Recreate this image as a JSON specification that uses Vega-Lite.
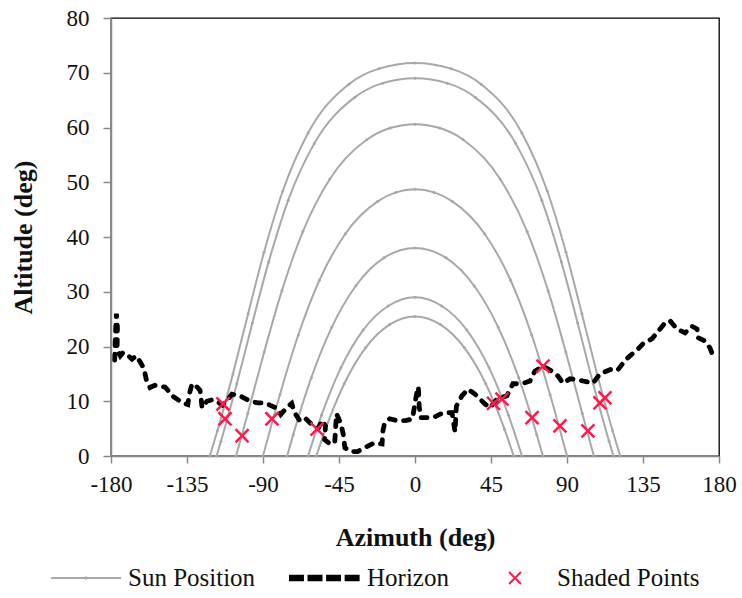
{
 "$schema": "https://vega.github.io/schema/vega-lite/v6.json",
 "width": 608, "height": 438,
 "autosize": {"type": "none"},
 "padding": {"left": 111, "top": 18, "right": 23, "bottom": 142},
 "background": "white",
 "config": {
  "view": {"stroke": "#000", "strokeWidth": 1.3},
  "font": "Liberation Serif",
  "legend": {"symbolSize": 4900},
  "axis": {"grid": false, "domainColor": "#888", "domainWidth": 1.5, "tickColor": "#888", "tickWidth": 1.5,
   "labelFont": "Liberation Serif", "labelFontSize": 23, "labelColor": "#111",
   "titleFont": "Liberation Serif", "titleFontSize": 26, "titleFontWeight": "bold", "titleColor": "#111"}
 },
 "datasets": {
  "sun": [
   {"k":1,"az":-121.5,"alt":0},{"k":1,"az":-117.0,"alt":4.6},{"k":1,"az":-107.8,"alt":15.0},{"k":1,"az":-98.8,"alt":26.0},{"k":1,"az":-89.4,"alt":37.2},{"k":1,"az":-78.3,"alt":48.4},{"k":1,"az":-63.3,"alt":59.0},{"k":1,"az":-39.2,"alt":67.9},{"k":1,"az":-21.3,"alt":70.75},{"k":1,"az":0,"alt":71.8},{"k":1,"az":21.3,"alt":70.75},{"k":1,"az":39.2,"alt":67.9},{"k":1,"az":63.3,"alt":59.0},{"k":1,"az":78.3,"alt":48.4},{"k":1,"az":89.4,"alt":37.2},{"k":1,"az":98.8,"alt":26.0},{"k":1,"az":107.8,"alt":15.0},{"k":1,"az":117.0,"alt":4.6},{"k":1,"az":121.5,"alt":0},
   {"k":2,"az":-117.5,"alt":0},{"k":2,"az":-114.9,"alt":2.7},{"k":2,"az":-105.5,"alt":13.2},{"k":2,"az":-96.3,"alt":24.3},{"k":2,"az":-86.6,"alt":35.5},{"k":2,"az":-75.1,"alt":46.7},{"k":2,"az":-59.6,"alt":57.1},{"k":2,"az":-35.7,"alt":65.5},{"k":2,"az":-19.1,"alt":68.1},{"k":2,"az":0,"alt":69.0},{"k":2,"az":19.1,"alt":68.1},{"k":2,"az":35.7,"alt":65.5},{"k":2,"az":59.6,"alt":57.1},{"k":2,"az":75.1,"alt":46.7},{"k":2,"az":86.6,"alt":35.5},{"k":2,"az":96.3,"alt":24.3},{"k":2,"az":105.5,"alt":13.2},{"k":2,"az":114.9,"alt":2.7},{"k":2,"az":117.5,"alt":0},
   {"k":3,"az":-105.9,"alt":0},{"k":3,"az":-99.0,"alt":7.8},{"k":3,"az":-89.3,"alt":19.0},{"k":3,"az":-78.8,"alt":30.2},{"k":3,"az":-66.4,"alt":41.0},{"k":3,"az":-50.4,"alt":50.6},{"k":3,"az":-28.4,"alt":57.8},{"k":3,"az":-14.7,"alt":59.9},{"k":3,"az":0,"alt":60.6},{"k":3,"az":14.7,"alt":59.9},{"k":3,"az":28.4,"alt":57.8},{"k":3,"az":50.4,"alt":50.6},{"k":3,"az":66.4,"alt":41.0},{"k":3,"az":78.8,"alt":30.2},{"k":3,"az":89.3,"alt":19.0},{"k":3,"az":99.0,"alt":7.8},{"k":3,"az":105.9,"alt":0},
   {"k":4,"az":-90,"alt":0},{"k":4,"az":-80.0,"alt":11.2},{"k":4,"az":-69.1,"alt":22.1},{"k":4,"az":-56.6,"alt":32.1},{"k":4,"az":-41.2,"alt":40.6},{"k":4,"az":-22.1,"alt":46.5},{"k":4,"az":-11.3,"alt":48.15},{"k":4,"az":0,"alt":48.7},{"k":4,"az":11.3,"alt":48.15},{"k":4,"az":22.1,"alt":46.5},{"k":4,"az":41.2,"alt":40.6},{"k":4,"az":56.6,"alt":32.1},{"k":4,"az":69.1,"alt":22.1},{"k":4,"az":80.0,"alt":11.2},{"k":4,"az":90,"alt":0},
   {"k":5,"az":-75.7,"alt":0},{"k":5,"az":-72.1,"alt":3.9},{"k":5,"az":-61.4,"alt":14.3},{"k":5,"az":-49.3,"alt":23.5},{"k":5,"az":-35.0,"alt":31.1},{"k":5,"az":-18.4,"alt":36.2},{"k":5,"az":0,"alt":38.0},{"k":5,"az":18.4,"alt":36.2},{"k":5,"az":35.0,"alt":31.1},{"k":5,"az":49.3,"alt":23.5},{"k":5,"az":61.4,"alt":14.3},{"k":5,"az":72.1,"alt":3.9},{"k":5,"az":75.7,"alt":0},
   {"k":6,"az":-63.3,"alt":0},{"k":6,"az":-55.3,"alt":7.5},{"k":6,"az":-43.9,"alt":16.1},{"k":6,"az":-30.7,"alt":23.0},{"k":6,"az":-15.9,"alt":27.4},{"k":6,"az":0,"alt":29.0},{"k":6,"az":15.9,"alt":27.4},{"k":6,"az":30.7,"alt":23.0},{"k":6,"az":43.9,"alt":16.1},{"k":6,"az":55.3,"alt":7.5},{"k":6,"az":63.3,"alt":0},
   {"k":7,"az":-58.4,"alt":0},{"k":7,"az":-53.0,"alt":4.9},{"k":7,"az":-41.9,"alt":13.2},{"k":7,"az":-29.2,"alt":19.8},{"k":7,"az":-15.1,"alt":24.0},{"k":7,"az":0,"alt":25.5},{"k":7,"az":15.1,"alt":24.0},{"k":7,"az":29.2,"alt":19.8},{"k":7,"az":41.9,"alt":13.2},{"k":7,"az":53.0,"alt":4.9},{"k":7,"az":58.4,"alt":0}
  ],
  "horizon": [
   {"i":1,"az":-177.8,"alt":17.5},{"i":2,"az":-177.4,"alt":22.0},{"i":3,"az":-176.8,"alt":26.0},{"i":4,"az":-176.2,"alt":23.5},{"i":5,"az":-176.4,"alt":19.5},{"i":6,"az":-174.5,"alt":18.3},{"i":7,"az":-172.9,"alt":18.9},{"i":8,"az":-170.0,"alt":18.4},{"i":9,"az":-167.6,"alt":17.7},{"i":10,"az":-165.0,"alt":18.3},
   {"i":11,"az":-162.8,"alt":17.2},{"i":12,"az":-160.5,"alt":16.0},{"i":13,"az":-159.0,"alt":13.8},{"i":14,"az":-156.9,"alt":12.5},{"i":15,"az":-154.0,"alt":12.9},{"i":16,"az":-151.0,"alt":12.7},{"i":17,"az":-148.0,"alt":12.6},{"i":18,"az":-146.3,"alt":12.0},{"i":19,"az":-143.3,"alt":10.9},{"i":20,"az":-140.0,"alt":10.2},
   {"i":21,"az":-137.4,"alt":9.7},{"i":22,"az":-134.5,"alt":9.4},{"i":23,"az":-133.5,"alt":11.5},{"i":24,"az":-132.0,"alt":13.2},{"i":25,"az":-129.0,"alt":12.6},{"i":26,"az":-127.3,"alt":12.0},{"i":27,"az":-126.6,"alt":10.4},{"i":28,"az":-126.1,"alt":8.8},{"i":29,"az":-123.2,"alt":10.0},{"i":30,"az":-119.6,"alt":10.3},
   {"i":31,"az":-116.0,"alt":9.7},{"i":32,"az":-114.0,"alt":9.3},{"i":33,"az":-111.0,"alt":10.2},{"i":34,"az":-108.4,"alt":11.3},{"i":35,"az":-103.6,"alt":11.0},{"i":36,"az":-100.0,"alt":10.4},{"i":37,"az":-97.7,"alt":10.0},{"i":38,"az":-93.0,"alt":9.7},{"i":39,"az":-88.8,"alt":9.7},{"i":40,"az":-86.0,"alt":9.3},
   {"i":41,"az":-81.7,"alt":8.7},{"i":42,"az":-79.5,"alt":7.6},{"i":43,"az":-76.0,"alt":8.8},{"i":44,"az":-73.0,"alt":9.6},{"i":45,"az":-71.5,"alt":8.0},{"i":46,"az":-68.1,"alt":6.4},{"i":47,"az":-65.0,"alt":6.9},{"i":48,"az":-62.0,"alt":6.0},{"i":49,"az":-57.4,"alt":5.0},{"i":50,"az":-55.0,"alt":6.5},
   {"i":51,"az":-53.0,"alt":5.5},{"i":52,"az":-53.5,"alt":3.0},{"i":53,"az":-50.0,"alt":2.1},{"i":54,"az":-47.5,"alt":2.6},{"i":55,"az":-46.5,"alt":7.7},{"i":56,"az":-44.0,"alt":6.0},{"i":57,"az":-42.5,"alt":4.0},{"i":58,"az":-41.5,"alt":1.5},{"i":59,"az":-38.0,"alt":0.8},{"i":60,"az":-34.0,"alt":0.8},
   {"i":61,"az":-30.0,"alt":1.5},{"i":62,"az":-24.0,"alt":2.4},{"i":63,"az":-19.5,"alt":2.2},{"i":64,"az":-19.0,"alt":4.6},{"i":65,"az":-18.0,"alt":6.0},{"i":66,"az":-15.0,"alt":6.8},{"i":67,"az":-10.0,"alt":6.4},{"i":68,"az":-5.0,"alt":6.5},{"i":69,"az":-1.5,"alt":6.8},{"i":70,"az":1.0,"alt":11.5},
   {"i":71,"az":2.0,"alt":12.6},{"i":72,"az":2.5,"alt":9.0},{"i":73,"az":3.5,"alt":7.0},{"i":74,"az":10.7,"alt":7.0},{"i":75,"az":16.6,"alt":7.9},{"i":76,"az":21.9,"alt":7.9},{"i":77,"az":23.0,"alt":5.8},{"i":78,"az":23.7,"alt":4.4},{"i":79,"az":24.5,"alt":9.1},{"i":80,"az":27.8,"alt":11.0},
   {"i":81,"az":31.4,"alt":12.2},{"i":82,"az":35.5,"alt":11.3},{"i":83,"az":38.5,"alt":10.4},{"i":84,"az":41.4,"alt":9.5},{"i":85,"az":44.4,"alt":8.8},{"i":86,"az":48.5,"alt":10.4},{"i":87,"az":54.4,"alt":11.0},{"i":88,"az":58.0,"alt":13.2},{"i":89,"az":63.3,"alt":13.2},{"i":90,"az":68.1,"alt":13.7},
   {"i":91,"az":71.0,"alt":15.5},{"i":92,"az":75.8,"alt":16.4},{"i":93,"az":81.0,"alt":15.5},{"i":94,"az":84.7,"alt":14.6},{"i":95,"az":87.6,"alt":13.3},{"i":96,"az":91.8,"alt":14.1},{"i":97,"az":95.5,"alt":14.0},{"i":98,"az":99.5,"alt":13.7},{"i":99,"az":105.4,"alt":13.3},{"i":100,"az":109.5,"alt":15.0},
   {"i":101,"az":116.6,"alt":15.9},{"i":102,"az":120.0,"alt":15.7},{"i":103,"az":124.3,"alt":17.4},{"i":104,"az":127.3,"alt":18.3},{"i":105,"az":132.0,"alt":19.5},{"i":106,"az":135.0,"alt":20.5},{"i":107,"az":140.3,"alt":21.4},{"i":108,"az":143.3,"alt":22.5},{"i":109,"az":148.0,"alt":24.3},{"i":110,"az":151.0,"alt":24.7},
   {"i":111,"az":155.1,"alt":23.2},{"i":112,"az":159.9,"alt":22.5},{"i":113,"az":164.0,"alt":23.7},{"i":114,"az":167.0,"alt":23.2},{"i":115,"az":167.6,"alt":21.6},{"i":116,"az":171.7,"alt":21.0},{"i":117,"az":174.7,"alt":19.7},{"i":118,"az":176.4,"alt":18.3}
  ],
  "shaded": [
   {"az":-113.7,"alt":9.5},{"az":-112.5,"alt":6.8},{"az":-102.4,"alt":3.7},{"az":-84.7,"alt":6.8},{"az":-58.0,"alt":4.9},{"az":46.5,"alt":9.6},{"az":51.5,"alt":10.4},{"az":69.3,"alt":7.0},{"az":75.8,"alt":16.4},{"az":85.8,"alt":5.5},{"az":102.4,"alt":4.6},{"az":109.5,"alt":9.7},{"az":112.5,"alt":10.6}
  ]
 },
 "layer": [
  {
   "data": {"name": "sun"},
   "transform": [{"calculate": "'Sun Position'", "as": "series"}],
   "mark": {"type": "line", "interpolate": "monotone", "strokeWidth": 2, "point": {"filled": true, "size": 9}},
   "encoding": {
    "x": {"field": "az", "type": "quantitative", "scale": {"domain": [-180, 180], "nice": false, "zero": false},
     "axis": {"values": [-180, -135, -90, -45, 0, 45, 90, 135, 180], "title": "Azimuth (deg)", "tickSize": 7, "labelPadding": 10, "titlePadding": 28, "labelFlush": false, "labelOverlap": false, "labelExpr": "'' + datum.value"}},
    "y": {"field": "alt", "type": "quantitative", "scale": {"domain": [0, 80], "nice": false},
     "axis": {"values": [0, 10, 20, 30, 40, 50, 60, 70, 80], "title": "Altitude (deg)", "tickSize": 8, "labelPadding": 14, "titlePadding": 30}},
    "color": {"field": "series", "type": "nominal",
     "scale": {"domain": ["Sun Position", "Horizon", "Shaded Points"], "range": ["#a8a8a8", "#000000", "#ff1a4b"]},
     "legend": {"orient": "none", "legendX": -61, "legendY": 524, "direction": "horizontal", "title": null,
      "symbolSize": 4900, "symbolType": "M-1,0L1,0", "symbolStrokeWidth": 2,
      "labelFont": "Liberation Serif", "labelFontSize": 25, "labelColor": "#111", "labelLimit": 400,
      "labelOffset": 6, "columnPadding": 30,
      "encode": {"symbols": {"update": {
       "shape": {"signal": "datum.value === 'Shaded Points' ? 'M-0.17,-0.17L0.17,0.17M-0.17,0.17L0.17,-0.17' : (datum.value === 'Sun Position' ? 'M-1,0L1,0M0,-0.04L0,0.04' : 'M-1,-0.064H-0.63V0.064H-1ZM-0.47,-0.064H-0.1V0.064H-0.47ZM0.06,-0.064H0.43V0.064H0.06ZM0.59,-0.064H0.96V0.064H0.59Z')"},
       "stroke": {"signal": "datum.value === 'Sun Position' ? '#a8a8a8' : (datum.value === 'Horizon' ? 'transparent' : '#ff1a4b')"},
       "fill": {"signal": "datum.value === 'Horizon' ? '#000000' : 'transparent'"},
       "strokeWidth": {"value": 2},
       "size": {"value": 4900},
       "opacity": {"value": 1}
      }}}}},
    "detail": {"field": "k", "type": "nominal"}
   }
  },
  {
   "data": {"name": "horizon"},
   "transform": [{"calculate": "'Horizon'", "as": "series"}],
   "mark": {"type": "line", "strokeWidth": 4.8, "strokeDash": [6, 8.5], "strokeCap": "round"},
   "encoding": {
    "x": {"field": "az", "type": "quantitative"},
    "y": {"field": "alt", "type": "quantitative"},
    "color": {"field": "series", "type": "nominal"},
    "order": {"field": "i", "type": "quantitative"}
   }
  },
  {
   "data": {"name": "shaded"},
   "transform": [{"calculate": "'Shaded Points'", "as": "series"}],
   "mark": {"type": "point", "shape": "M-1,-1L1,1M-1,1L1,-1", "size": 170, "strokeWidth": 2.5, "filled": false, "opacity": 1},
   "encoding": {
    "x": {"field": "az", "type": "quantitative"},
    "y": {"field": "alt", "type": "quantitative"},
    "color": {"field": "series", "type": "nominal"}
   }
  }
 ]
}
